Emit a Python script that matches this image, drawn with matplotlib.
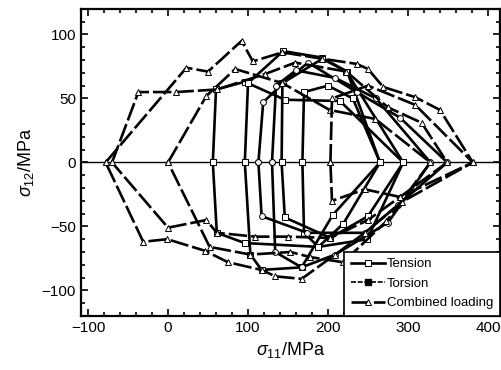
import matplotlib
matplotlib.use("Agg")
import matplotlib.pyplot as plt
from matplotlib.ticker import MultipleLocator

plt.rcParams['font.family'] = ['Liberation Sans', 'DejaVu Sans']
plt.rcParams['mathtext.fontset'] = 'custom'
plt.rcParams['mathtext.rm'] = 'Liberation Sans'
plt.rcParams['mathtext.it'] = 'Liberation Sans:italic'

# ---- data: yield-surface loci (sigma11, sigma12) in MPa ----
s1_x = [-78, 23, 50, 92, 106, 143, 193, 236, 250, 269, 309, 340, 381, 292, 246, 209, 167, 134, 117, 75, 46, -1, -31, -78]
s1_y = [0, 74, 71, 95, 79, 86, 81, 77, 73, 59, 51, 41, 0, -31, -55, -72, -91, -89, -84, -78, -69, -60, -62, 0]
s2_x = [-70, -37, 10, 61, 121, 159, 223, 275, 317, 349, 290, 250, 203, 150, 109, 61, 48, 0, -70]
s2_y = [0, 55, 55, 57, 69, 78, 71, 43, 31, 0, -27, -45, -59, -58, -58, -55, -45, -51, 0]
s3_x = [0, 48, 84, 143, 202, 259, 328, 273, 219, 178, 153, 103, 52, 0]
s3_y = [0, 52, 73, 62, 41, 34, 0, -46, -78, -74, -70, -72, -66, 0]
s4_x = [56, 60, 96, 146, 215, 294, 249, 188, 96, 61, 56]
s4_y = [0, 57, 63, 49, 48, 0, -60, -66, -63, -55, 0]
s5_x = [96, 100, 144, 192, 224, 265, 206, 167, 117, 103, 96]
s5_y = [0, 62, 87, 82, 71, 0, -41, -82, -84, -72, 0]
s6_x = [113, 119, 144, 175, 236, 290, 349, 288, 246, 174, 117, 113]
s6_y = [0, 47, 62, 78, 55, 35, 0, -33, -55, -55, -42, 0]
s7_x = [130, 135, 160, 209, 260, 328, 275, 209, 167, 134, 130]
s7_y = [0, 60, 72, 66, 50, 0, -47, -72, -82, -70, 0]
s8_x = [142, 143, 193, 223, 294, 250, 203, 146, 142]
s8_y = [0, 62, 81, 71, 0, -42, -59, -43, 0]
s9_x = [168, 170, 200, 231, 265, 219, 188, 170, 168]
s9_y = [0, 55, 60, 50, 0, -48, -66, -55, 0]
s10_x = [203, 205, 250, 309, 381, 290, 246, 205, 203]
s10_y = [0, 50, 60, 45, 0, -27, -21, -30, 0]

tension = [(s4_x, s4_y), (s5_x, s5_y), (s8_x, s8_y), (s9_x, s9_y)]
torsion = [(s6_x, s6_y), (s7_x, s7_y)]
combined = [(s1_x, s1_y), (s2_x, s2_y), (s3_x, s3_y), (s10_x, s10_y)]
labels = ["Tension", "Torsion", "Combined loading"]

fig = plt.figure(figsize=(5.02, 3.70), dpi=100)
ax = fig.add_axes([0.161, 0.146, 0.835, 0.830])

lw = 1.9
for i, (x, y) in enumerate(tension):
    ax.plot(x, y, '-', color='black', lw=lw, marker='s', ms=4.2, mfc='white',
            mec='black', mew=0.7, label=labels[0] if i == 0 else None, zorder=3)
for i, (x, y) in enumerate(torsion):
    ax.plot(x, y, '-', color='black', lw=lw, marker='o', ms=4.2, mfc='white',
            mec='black', mew=0.7, zorder=3)
for i, (x, y) in enumerate(combined):
    ax.plot(x, y, color='black', lw=lw, ls=(0, (7, 1.5)), marker='^', ms=4.2, mfc='white',
            mec='black', mew=0.7, label=labels[2] if i == 0 else None, zorder=3)

# legend proxy for torsion
ax.plot([], [], color='black', lw=1.2, ls=(0, (3, 1)), marker='s', ms=4.5, mfc='black',
        mec='black', label=labels[1])

ax.axhline(0, color='black', lw=1.0, zorder=2)

ax.set_xlim(-109, 415)
ax.set_ylim(-120, 120)
ax.xaxis.set_major_locator(MultipleLocator(100))
ax.xaxis.set_minor_locator(MultipleLocator(20))
ax.yaxis.set_major_locator(MultipleLocator(50))
ax.yaxis.set_minor_locator(MultipleLocator(10))
ax.tick_params(which='both', direction='in', top=True, right=True, labelsize=11, width=1.2)
ax.tick_params(which='major', length=5)
ax.tick_params(which='minor', length=3)
for s in ax.spines.values():
    s.set_linewidth(1.6)

ax.set_xlabel(r'$\sigma_{11}$/MPa', fontsize=13, labelpad=4)
ax.set_ylabel(r'$\sigma_{12}$/MPa', fontsize=13, labelpad=4)

handles, labs = ax.get_legend_handles_labels()
order = [labs.index(l) for l in labels]
leg = ax.legend([handles[i] for i in order], [labs[i] for i in order],
                loc='lower right', fontsize=9.5, frameon=True, fancybox=False,
                edgecolor='black', framealpha=1, borderpad=0.5, labelspacing=0.55,
                handlelength=2.6, handletextpad=0.15, borderaxespad=0.0)
leg.get_frame().set_linewidth(1.2)

fig.savefig('out.png', dpi=100)
